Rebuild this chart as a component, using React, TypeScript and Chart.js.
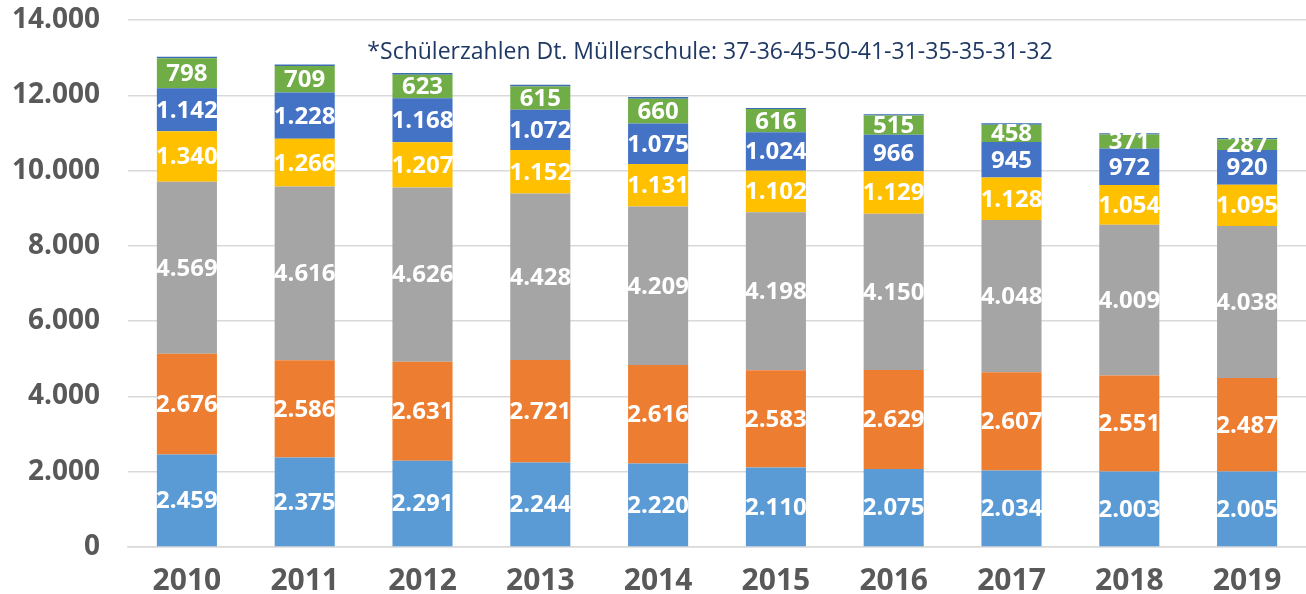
import React, { useEffect, useRef } from "react";
import { Chart, registerables } from "chart.js";

Chart.register(...registerables);

const years = ["2010", "2011", "2012", "2013", "2014", "2015", "2016", "2017", "2018", "2019"];
const s1 = [2459, 2375, 2291, 2244, 2220, 2110, 2075, 2034, 2003, 2005];
const s2 = [2676, 2586, 2631, 2721, 2616, 2583, 2629, 2607, 2551, 2487];
const s3 = [4569, 4616, 4626, 4428, 4209, 4198, 4150, 4048, 4009, 4038];
const s4 = [1340, 1266, 1207, 1152, 1131, 1102, 1129, 1128, 1054, 1095];
const s5 = [1142, 1228, 1168, 1072, 1075, 1024, 966, 945, 972, 920];
const s6 = [798, 709, 623, 615, 660, 616, 515, 458, 371, 287];
const mueller = [37, 36, 45, 50, 41, 31, 35, 35, 31, 32];
const yTicks = [0, 2000, 4000, 6000, 8000, 10000, 12000, 14000];
const note = "*Schülerzahlen Dt. Müllerschule: 37-36-45-50-41-31-35-35-31-32";

const fmt = (v: number) => String(v).replace(/\B(?=(\d{3})+(?!\d))/g, ".");

const FONT = "'Open Sans', 'DejaVu Sans', sans-serif";

const labelPlugin = {
  id: "segLabels",
  afterDatasetsDraw(chart: any) {
    const ctx = chart.ctx;
    ctx.save();
    ctx.fillStyle = "#ffffff";
    ctx.font = `bold 24px ${FONT}`;
    ctx.textAlign = "center";
    ctx.textBaseline = "middle";
    chart.data.datasets.forEach((ds: any, di: number) => {
      if (ds.noLabel) return;
      const meta = chart.getDatasetMeta(di);
      meta.data.forEach((bar: any, i: number) => {
        const cy = (bar.y + bar.base) / 2;
        ctx.fillText(fmt(ds.data[i]), bar.x, cy + 1);
      });
    });
    ctx.restore();
  },
};

const notePlugin = {
  id: "note",
  afterDraw(chart: any) {
    const ctx = chart.ctx;
    ctx.save();
    ctx.fillStyle = "#1F3864";
    ctx.font = `23px ${FONT}`;
    ctx.textAlign = "center";
    ctx.textBaseline = "middle";
    ctx.fillText(note, 710, 52);
    ctx.restore();
  },
};

export default function App() {
  const ref = useRef<HTMLCanvasElement>(null);
  useEffect(() => {
    if (!ref.current) return;
    const mk = (label: string, data: number[], color: string, noLabel = false) => ({
      label,
      data,
      backgroundColor: color,
      borderWidth: 0,
      barPercentage: 0.51,
      categoryPercentage: 1,
      noLabel,
    });
    const chart = new Chart(ref.current, {
      type: "bar",
      data: {
        labels: years,
        datasets: [
          mk("A", s1, "#5B9BD5"),
          mk("B", s2, "#ED7D31"),
          mk("C", s3, "#A5A5A5"),
          mk("D", s4, "#FFC000"),
          mk("E", s5, "#4472C4"),
          mk("F", s6, "#70AD47"),
          mk("Dt. Müllerschule", mueller, "#3B6DB3", true),
        ] as any,
      },
      options: {
        animation: false,
        responsive: false,
        maintainAspectRatio: false,
        layout: { padding: 0 },
        plugins: { legend: { display: false }, tooltip: { enabled: false } },
        scales: {
          x: {
            stacked: true,
            grid: { display: false, drawTicks: false },
            border: { display: true, color: "#D9D9D9", width: 1.5 },
            afterFit: (axis: any) => {
              axis.height = 47;
              axis.paddingLeft = 0;
              axis.paddingRight = 0;
            },
            ticks: {
              color: "#595959",
              font: { family: FONT, size: 30, weight: "bold", lineHeight: 1 },
              padding: 19,
              maxRotation: 0,
            },
          },
          y: {
            stacked: true,
            min: 0,
            max: 14000,
            afterBuildTicks: (axis: any) => {
              axis.ticks = yTicks.map((v) => ({ value: v }));
            },
            afterFit: (axis: any) => {
              axis.width = 128;
              axis.paddingTop = 20;
              axis.paddingBottom = 0;
            },
            grid: { color: "#D9D9D9", lineWidth: 1.5, drawTicks: false },
            border: { display: false },
            ticks: {
              color: "#595959",
              font: { family: FONT, size: 28, weight: "bold", lineHeight: 1 },
              padding: 28,
              callback: (v: any) => fmt(Number(v)),
            },
          },
        },
      },
      plugins: [labelPlugin, notePlugin],
    });
    return () => chart.destroy();
  }, []);
  return (
    <div style={{ position: "fixed", left: 0, top: 0, width: 1306, height: 594, background: "#fff" }}>
      <canvas ref={ref} width={1306} height={594} style={{ width: 1306, height: 594 }} />
    </div>
  );
}
